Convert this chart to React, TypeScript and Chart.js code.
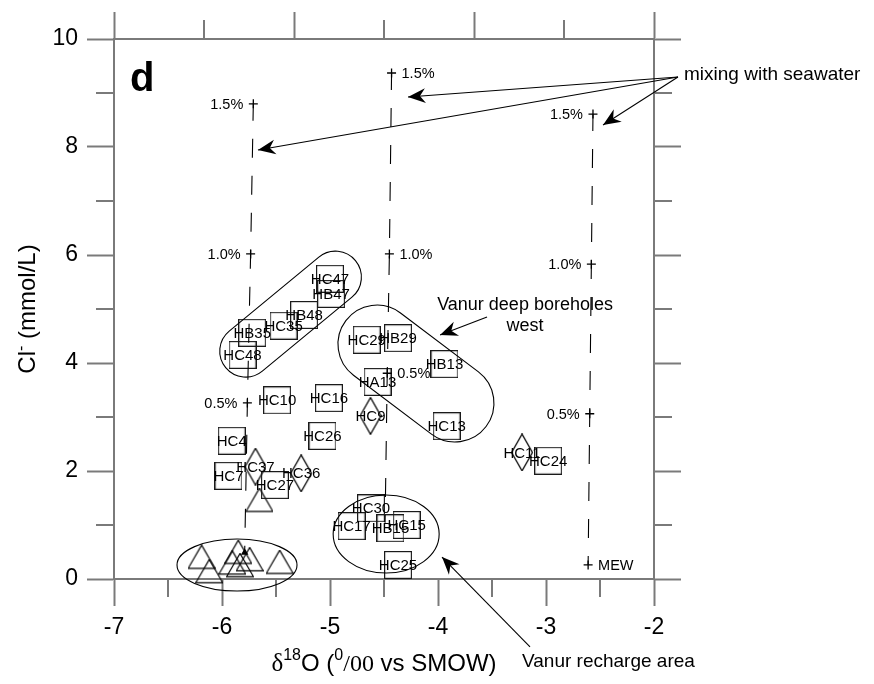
import React, { useEffect, useRef } from 'react';
import { Chart, registerables } from 'chart.js';

Chart.register(...registerables);

const SANS = '"Liberation Sans", Arial, Helvetica, sans-serif';
const SERIF = '"Liberation Serif", "Times New Roman", serif';
const AXIS = '#7a7a7a';

// ---------- axes ----------
const xMin = -7;
const xMax = -2;
const yMin = 0;
const yMax = 10;
const xMinorTicks = [-6.5, -5.5, -4.5, -3.5, -2.5];
const yMinorTicks = [1, 3, 5, 7, 9];
const topMinorTicks = [1, 3, 5];

// ---------- samples ----------
const boxLabels = ['HC47', 'HB47', 'HB48', 'HC35', 'HB35', 'HC48', 'HC10', 'HC16', 'HC29', 'HB29', 'HB13', 'HA13', 'HC13', 'HC4', 'HC7', 'HC27', 'HC26', 'HC24', 'HC30', 'HC17', 'HB15', 'HC15', 'HC25'];
const boxX = [-5.0, -4.99, -5.24, -5.43, -5.72, -5.81, -5.49, -5.01, -4.66, -4.37, -3.94, -4.56, -3.92, -5.91, -5.94, -5.51, -5.07, -2.98, -4.62, -4.8, -4.44, -4.29, -4.37];
const boxY = [5.56, 5.28, 4.89, 4.69, 4.56, 4.15, 3.31, 3.35, 4.43, 4.46, 3.98, 3.65, 2.83, 2.56, 1.91, 1.74, 2.65, 2.19, 1.31, 0.98, 0.94, 1.0, 0.26];

const diamondLabels = ['HC9', 'HC37', 'HC36', 'HC11'];
const diamondX = [-4.625, -5.69, -5.267, -3.222];
const diamondY = [3.02, 2.08, 1.957, 2.343];

const triX = [-6.189, -6.118, -5.849, -5.904, -5.833, -5.744, -5.466, -5.653];
const triY = [0.352, 0.087, 0.444, 0.246, 0.198, 0.309, 0.259, 1.407];

// ---------- seawater mixing lines (0%, 0.5%, 1.0%, 1.5%) ----------
const mixPctLabels = ['', '0.5%', '1.0%', '1.5%'];
const mixLeftX = [-5.79, -5.765, -5.735, -5.71];
const mixLeftY = [0.49, 3.26, 6.02, 8.8];
const mixMidX = [-4.49, -4.47, -4.45, -4.43];
const mixMidY = [1.04, 3.81, 6.02, 9.37];
const mixRightX = [-2.61, -2.595, -2.58, -2.565];
const mixRightY = [0.26, 3.06, 5.83, 8.61];
const mixRightBaseLabel = 'MEW';

// ---------- annotation shapes (data coords) ----------
const ellipses = [
  { cx: -5.861, cy: 0.259, rx: 60, ry: 26 },
  { cx: -4.48, cy: 0.833, rx: 53, ry: 39 },
];
const pills = [
  { x1: -5.78, y1: 4.22, x2: -4.95, y2: 5.59, r: 26 },
  { x1: -4.565, y1: 4.35, x2: -3.843, y2: 3.26, r: 39 },
];
const arrows = [
  { x1: -1.778, y1: 9.296, x2: -5.667, y2: 7.944 },
  { x1: -1.778, y1: 9.296, x2: -4.278, y2: 8.926 },
  { x1: -1.778, y1: 9.296, x2: -2.472, y2: 8.407 },
  { x1: -3.546, y1: 4.852, x2: -3.981, y2: 4.519 },
  { x1: -3.148, y1: -1.259, x2: -3.963, y2: 0.407 },
];
const notes = [
  { text: 'mixing with seawater', x: -1.722, y: 9.24, align: 'left', size: 19 },
  { text: 'Vanur deep boreholes', x: -3.194, y: 4.98, align: 'center', size: 18 },
  { text: 'west', x: -3.194, y: 4.59, align: 'center', size: 18 },
  { text: 'Vanur recharge area', x: -3.222, y: -1.63, align: 'left', size: 19 },
];
const panelLetter = { text: 'd', x: -6.852, y: 9.037 };

// ---------- marker images ----------
function makeBox() {
  const c = document.createElement('canvas');
  c.width = 28; c.height = 28;
  const g = c.getContext('2d')!;
  g.strokeStyle = '#1a1a1a'; g.lineWidth = 1.2;
  g.strokeRect(0.6, 0.6, 26.8, 26.8);
  return c;
}
function makeDiamond() {
  const c = document.createElement('canvas');
  c.width = 22; c.height = 38;
  const g = c.getContext('2d')!;
  g.strokeStyle = '#000'; g.lineWidth = 1.2;
  g.beginPath();
  g.moveTo(11, 0.6); g.lineTo(21.4, 19); g.lineTo(11, 37.4); g.lineTo(0.6, 19); g.closePath();
  g.stroke();
  return c;
}
function makeTriangle() {
  const c = document.createElement('canvas');
  c.width = 28; c.height = 31;
  const g = c.getContext('2d')!;
  g.strokeStyle = '#000'; g.lineWidth = 1.2;
  g.beginPath();
  g.moveTo(14, 0.6); g.lineTo(27.4, 23.8); g.lineTo(0.6, 23.8); g.closePath();
  g.stroke();
  return c;
}

function arrowHead(ctx: CanvasRenderingContext2D, x1: number, y1: number, x2: number, y2: number) {
  const a = Math.atan2(y2 - y1, x2 - x1);
  const L = 19, W = 0.4, N = 12;
  ctx.beginPath();
  ctx.moveTo(x2, y2);
  ctx.lineTo(x2 - L * Math.cos(a - W), y2 - L * Math.sin(a - W));
  ctx.lineTo(x2 - N * Math.cos(a), y2 - N * Math.sin(a));
  ctx.lineTo(x2 - L * Math.cos(a + W), y2 - L * Math.sin(a + W));
  ctx.closePath();
  ctx.fill();
}

const overlay = {
  id: 'overlay',
  afterDraw(chart: any) {
    const ctx: CanvasRenderingContext2D = chart.ctx;
    const xs = chart.scales.x, ys = chart.scales.y;
    const x2s = chart.scales.x2, y2s = chart.scales.y2;
    const X = (v: number) => xs.getPixelForValue(v);
    const Y = (v: number) => ys.getPixelForValue(v);
    const ca = chart.chartArea;
    ctx.save();

    // minor ticks
    ctx.strokeStyle = AXIS; ctx.lineWidth = 2;
    ctx.beginPath();
    xMinorTicks.forEach((v) => { const p = Math.round(X(v)); ctx.moveTo(p, ca.bottom); ctx.lineTo(p, ca.bottom + 18); });
    yMinorTicks.forEach((v) => { const p = Math.round(Y(v)); ctx.moveTo(ca.left, p); ctx.lineTo(ca.left - 18, p); });
    yMinorTicks.forEach((v) => { const p = Math.round(y2s.getPixelForValue(v)); ctx.moveTo(ca.right, p); ctx.lineTo(ca.right + 18, p); });
    topMinorTicks.forEach((v) => { const p = Math.round(x2s.getPixelForValue(v)); ctx.moveTo(p, ca.top); ctx.lineTo(p, ca.top - 19); });
    ctx.stroke();

    // ellipses & pills
    ctx.strokeStyle = '#000'; ctx.lineWidth = 1.1;
    ellipses.forEach((e) => {
      ctx.beginPath();
      ctx.ellipse(X(e.cx), Y(e.cy), e.rx, e.ry, 0, 0, Math.PI * 2);
      ctx.stroke();
    });
    pills.forEach((p) => {
      const ax = X(p.x1), ay = Y(p.y1), bx = X(p.x2), by = Y(p.y2);
      const a = Math.atan2(by - ay, bx - ax);
      ctx.beginPath();
      ctx.arc(bx, by, p.r, a - Math.PI / 2, a + Math.PI / 2);
      ctx.arc(ax, ay, p.r, a + Math.PI / 2, a + Math.PI * 1.5);
      ctx.closePath();
      ctx.stroke();
    });

    // arrows
    ctx.fillStyle = '#000';
    arrows.forEach((r) => {
      const ax = X(r.x1), ay = Y(r.y1), bx = X(r.x2), by = Y(r.y2);
      ctx.beginPath(); ctx.moveTo(ax, ay); ctx.lineTo(bx, by); ctx.stroke();
      arrowHead(ctx, ax, ay, bx, by);
    });

    // sample labels
    ctx.fillStyle = '#000';
    ctx.textAlign = 'center'; ctx.textBaseline = 'middle';
    ctx.font = `15px ${SANS}`;
    const labelSets: [number, string[]][] = [[3, boxLabels], [4, diamondLabels]];
    labelSets.forEach(([di, labels]) => {
      const meta = chart.getDatasetMeta(di);
      meta.data.forEach((pt: any, j: number) => ctx.fillText(labels[j], pt.x, pt.y + 1));
    });

    // mixing % labels (datasets 0..2 hold points in order 1.5%,1.0%,0.5%,0%)
    ctx.font = `14.5px ${SANS}`;
    const sides = ['left', 'right', 'left'];
    [0, 1, 2].forEach((di) => {
      const meta = chart.getDatasetMeta(di);
      const n = meta.data.length;
      meta.data.forEach((pt: any, j: number) => {
        const k = n - 1 - j;
        let txt = mixPctLabels[k];
        let side = sides[di];
        if (k === 0) {
          if (di === 2) { txt = mixRightBaseLabel; side = 'right'; } else return;
        }
        if (!txt) return;
        if (side === 'left') { ctx.textAlign = 'right'; ctx.fillText(txt, pt.x - 10, pt.y + 1); }
        else { ctx.textAlign = 'left'; ctx.fillText(txt, pt.x + 10, pt.y + 1); }
      });
    });

    // notes
    ctx.textBaseline = 'alphabetic';
    notes.forEach((n) => {
      ctx.font = `${n.size}px ${SANS}`;
      ctx.textAlign = n.align as CanvasTextAlign;
      ctx.fillText(n.text, X(n.x), Y(n.y));
    });
    ctx.font = `bold 40px ${SANS}`;
    ctx.textAlign = 'left';
    ctx.fillText(panelLetter.text, X(panelLetter.x), Y(panelLetter.y));

    // x title
    const cx = (ca.left + ca.right) / 2;
    const parts = [
      { t: 'δ', f: `25px ${SERIF}`, dy: 0 },
      { t: '18', f: `16px ${SANS}`, dy: -11 },
      { t: 'O (', f: `24px ${SANS}`, dy: 0 },
      { t: '0', f: `16px ${SANS}`, dy: -11 },
      { t: '/00', f: `24px ${SERIF}`, dy: 0 },
      { t: ' vs SMOW)', f: `24px ${SANS}`, dy: 0 },
    ];
    let total = 0;
    parts.forEach((p) => { ctx.font = p.f; total += ctx.measureText(p.t).width; });
    let px = cx - total / 2;
    const base = 671;
    ctx.textAlign = 'left';
    parts.forEach((p) => { ctx.font = p.f; ctx.fillText(p.t, px, base + p.dy); px += ctx.measureText(p.t).width; });

    // y title
    const cy = (ca.top + ca.bottom) / 2;
    const yparts = [
      { t: 'Cl', f: `24px ${SANS}`, dy: 0 },
      { t: '-', f: `16px ${SANS}`, dy: -9 },
      { t: ' (mmol/L)', f: `24px ${SANS}`, dy: 0 },
    ];
    let ytot = 0;
    yparts.forEach((p) => { ctx.font = p.f; ytot += ctx.measureText(p.t).width; });
    ctx.translate(35, cy);
    ctx.rotate(-Math.PI / 2);
    let yp = -ytot / 2;
    yparts.forEach((p) => { ctx.font = p.f; ctx.fillText(p.t, yp, p.dy); yp += ctx.measureText(p.t).width; });

    ctx.restore();
  },
};

function mixDataset(xsArr: number[], ysArr: number[], baseStyle: string, baseRadius: number) {
  const pts = xsArr.map((x, i) => ({ x, y: ysArr[i] })).reverse();
  return {
    type: 'line',
    data: pts,
    showLine: true,
    borderColor: '#000',
    borderWidth: 1.1,
    borderDash: [19, 18],
    borderDashOffset: 2,
    fill: false,
    tension: 0,
    clip: false,
    pointStyle: ['cross', 'cross', 'cross', baseStyle],
    pointRadius: [4.5, 4.5, 4.5, baseRadius],
    pointBorderColor: '#000',
    pointBackgroundColor: '#000',
    pointBorderWidth: 1.3,
  };
}

export default function App() {
  const ref = useRef<HTMLCanvasElement>(null);
  useEffect(() => {
    const canvas = ref.current!;
    const boxImg = makeBox();
    const diaImg = makeDiamond();
    const triImg = makeTriangle();
    const tickFont = { family: SANS, size: 23 };
    const chart = new Chart(canvas, {
      type: 'scatter',
      data: {
        datasets: [
          mixDataset(mixLeftX, mixLeftY, 'triangle', 3),
          mixDataset(mixMidX, mixMidY, 'cross', 0),
          mixDataset(mixRightX, mixRightY, 'cross', 4.5),
          { type: 'scatter', data: boxX.map((x, i) => ({ x, y: boxY[i] })), pointStyle: boxImg, pointRadius: 14, clip: false },
          { type: 'scatter', data: diamondX.map((x, i) => ({ x, y: diamondY[i] })), pointStyle: diaImg, pointRadius: 14, clip: false },
          { type: 'scatter', data: triX.map((x, i) => ({ x, y: triY[i] })), pointStyle: triImg, pointRadius: 14, clip: false },
        ] as any,
      },
      options: {
        responsive: false,
        animation: false,
        devicePixelRatio: 1,
        events: [],
        layout: { padding: 0 },
        plugins: { legend: { display: false }, tooltip: { enabled: false } },
        scales: {
          x: {
            type: 'linear', position: 'bottom', min: xMin, max: xMax,
            afterFit: (s: any) => { s.height = 105; },
            ticks: { stepSize: 1, font: tickFont, color: '#000', padding: 8, autoSkip: false, maxRotation: 0 },
            grid: { drawOnChartArea: false, tickLength: 27, tickColor: AXIS, tickWidth: 2 },
            border: { color: AXIS, width: 2 },
          },
          y: {
            type: 'linear', position: 'left', min: yMin, max: yMax,
            afterFit: (s: any) => { s.width = 114; },
            ticks: { stepSize: 2, font: tickFont, color: '#000', padding: 9, autoSkip: false },
            grid: { drawOnChartArea: false, tickLength: 27, tickColor: AXIS, tickWidth: 2 },
            border: { color: AXIS, width: 2 },
          },
          x2: {
            type: 'linear', position: 'top', min: 0, max: 6,
            afterFit: (s: any) => { s.height = 39; },
            ticks: { stepSize: 2, callback: () => '', autoSkip: false, maxRotation: 0 },
            grid: { drawOnChartArea: false, tickLength: 27, tickColor: AXIS, tickWidth: 2 },
            border: { color: AXIS, width: 2 },
          },
          y2: {
            type: 'linear', position: 'right', min: yMin, max: yMax,
            afterFit: (s: any) => { s.width = 220; },
            ticks: { stepSize: 2, callback: () => '', autoSkip: false },
            grid: { drawOnChartArea: false, tickLength: 27, tickColor: AXIS, tickWidth: 2 },
            border: { color: AXIS, width: 2 },
          },
        },
      } as any,
      plugins: [overlay],
    });
    return () => chart.destroy();
  }, []);
  return (
    <div style={{ position: 'absolute', left: 0, top: 0, width: 874, height: 684, background: '#fff' }}>
      <canvas ref={ref} width={874} height={684} style={{ width: 874, height: 684, display: 'block' }} />
    </div>
  );
}
